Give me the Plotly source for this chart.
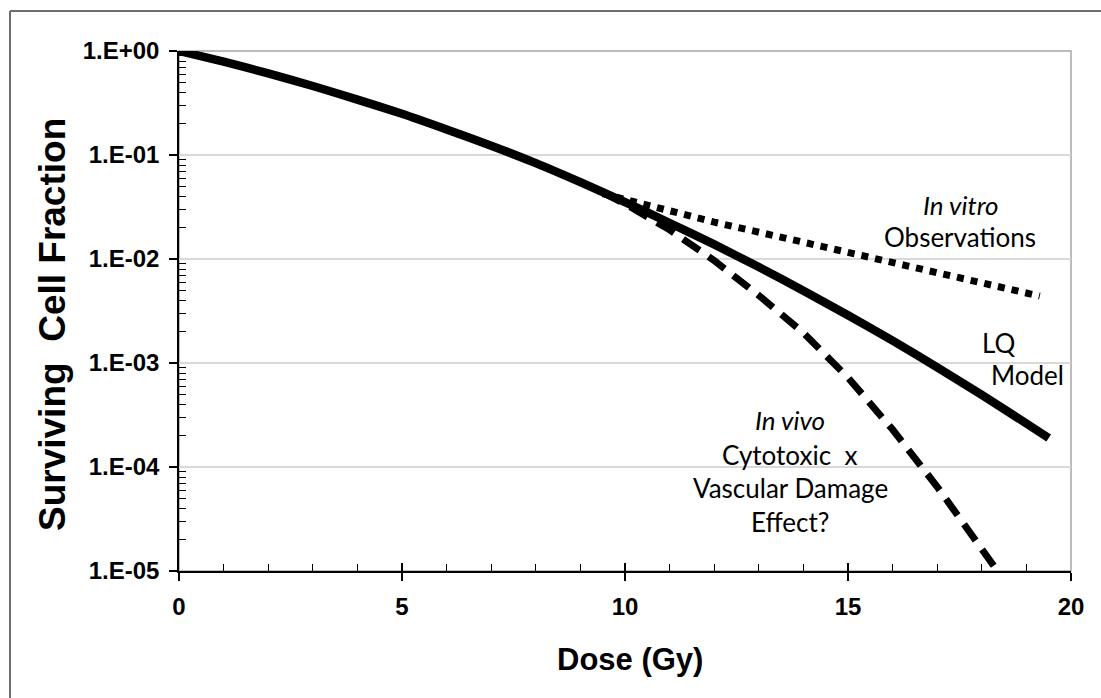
import plotly.graph_objects as go

# ---- data ----
dose_lq = [0, 1, 2, 3, 4, 5, 6, 7, 8, 9, 10, 11, 12, 13, 14, 15, 16, 17, 18, 19, 19.5]
sf_lq = [1.0, 0.79, 0.61, 0.461, 0.341, 0.249, 0.176, 0.123, 0.0835, 0.0548, 0.0353,
         0.0222, 0.0138, 0.00836, 0.00496, 0.00288, 0.00164, 0.000908, 0.000493,
         0.000262, 0.000190]

dose_vitro = [9.5, 12, 14, 16, 18, 19.3]
sf_vitro = [0.0425, 0.0226, 0.0145, 0.0092, 0.0059, 0.0044]

dose_vivo = [9.5, 10, 11, 12, 13, 14, 15, 16, 17, 18, 18.35]
sf_vivo = [0.0437, 0.0339, 0.0191, 0.00966, 0.00447, 0.00195, 0.000724, 0.000229,
           0.0000646, 0.0000155, 0.0000100]

y_tickvals = [1, 0.1, 0.01, 0.001, 0.0001, 0.00001]
y_ticktext = ["1.E+00", "1.E-01", "1.E-02", "1.E-03", "1.E-04", "1.E-05"]
y_minor_vals = [k * 10.0 ** e for e in range(-5, 0) for k in range(2, 10)]
x_tickvals = [0, 5, 10, 15, 20]
x_minor_vals = [v for v in range(0, 21) if v % 5]

# ---- layout geometry (pixels) ----
W, H = 1101, 698
L, R, T, B = 179, 1071, 51, 571


def px(x):
    return (x - L) / (R - L)


def py(y):
    return (B - y) / (B - T)


fig = go.Figure()
fig.add_trace(go.Scatter(x=dose_vivo, y=sf_vivo, mode="lines", xaxis="x",
                         line=dict(color="black", width=7, dash="20px,11px")))
fig.add_trace(go.Scatter(x=dose_vitro, y=sf_vitro, mode="lines", xaxis="x",
                         line=dict(color="black", width=7, dash="dot")))
fig.add_trace(go.Scatter(x=dose_lq, y=sf_lq, mode="lines", xaxis="x2",
                         line=dict(color="black", width=8.5, shape="spline", smoothing=0.6)))

tickfont = dict(family="Liberation Sans", size=24, color="black", weight="bold")

fig.update_layout(
    width=W, height=H,
    margin=dict(l=L, r=W - R, t=T, b=H - B, autoexpand=False),
    plot_bgcolor="white", paper_bgcolor="white",
    showlegend=False,
    xaxis=dict(range=[0, 20], tickvals=x_tickvals, ticks="outside", ticklen=8,
               tickwidth=1.5, tickcolor="black", showline=True, linecolor="black",
               linewidth=1.5, showgrid=False, zeroline=False, tickfont=tickfont,
               ticklabelstandoff=5,
               minor=dict(tickvals=x_minor_vals, ticks="inside", ticklen=7, tickwidth=1.2,
                          tickcolor="black", showgrid=False)),
    xaxis2=dict(range=[0, 20], overlaying="x", anchor="y", side="bottom",
                tickvals=x_tickvals, ticks="inside", ticklen=8, tickwidth=1.5,
                tickcolor="black", showticklabels=False, showline=False,
                showgrid=False, zeroline=False),
    yaxis=dict(type="log", range=[-5, 0], tickvals=y_tickvals, ticktext=y_ticktext,
               ticks="outside", ticklen=8, tickwidth=1.5, tickcolor="black",
               showline=True, linecolor="black", linewidth=1.5,
               showgrid=True, gridcolor="#d9d9d9", gridwidth=1.5, zeroline=False,
               tickfont=tickfont, ticklabelstandoff=5,
               minor=dict(tickvals=y_minor_vals, ticks="inside", ticklen=7, tickwidth=1.2,
                          tickcolor="black", showgrid=False)),
    shapes=[
        dict(type="rect", xref="paper", yref="paper", x0=0, x1=1, y0=0, y1=1,
             line=dict(color="#a6a6a6", width=1.5), layer="below"),
        dict(type="line", xref="paper", yref="paper", x0=px(10), x1=px(1101),
             y0=py(11), y1=py(11), line=dict(color="#6e6e6e", width=2)),
        dict(type="line", xref="paper", yref="paper", x0=px(10), x1=px(10),
             y0=py(11), y1=py(698), line=dict(color="#6e6e6e", width=2)),
    ],
)

ann_font = dict(family="Lato", size=26, color="black")
notes = [
    ("<i>In vitro</i>", 961, 205),
    ("Observations", 960, 237),
    ("LQ", 998, 343),
    ("Model", 1027, 375),
    ("<i>In vivo</i>", 790, 420),
    ("Cytotoxic\u00a0 x", 789, 455),
    ("Vascular Damage", 790, 488),
    ("Effect?", 790, 522),
]
for text, x, y in notes:
    fig.add_annotation(text=text, x=px(x), y=py(y), xref="paper", yref="paper",
                       showarrow=False, font=ann_font, xanchor="center", yanchor="middle")

title_font = dict(family="Liberation Sans", color="black", weight="bold")
fig.add_annotation(text="Dose (Gy)", x=px(630), y=py(659), xref="paper", yref="paper",
                   showarrow=False, font=dict(size=31, **title_font),
                   xanchor="center", yanchor="middle")
fig.add_annotation(text="Surviving\u00a0 Cell Fraction", x=px(52), y=py(325),
                   xref="paper", yref="paper", showarrow=False, textangle=-90,
                   font=dict(size=37, **title_font), xanchor="center", yanchor="middle")

fig.write_html("out.html", config={"displayModeBar": False},
               post_script="document.body.style.margin='0px';")
